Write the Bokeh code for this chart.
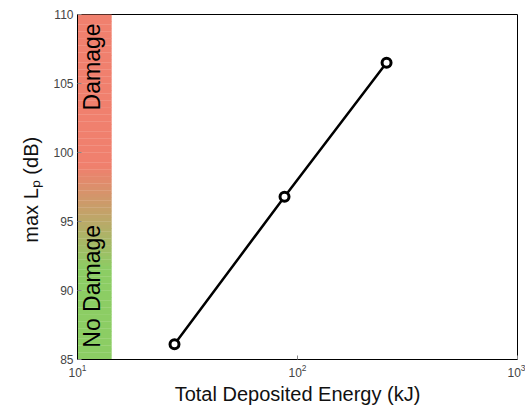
from bokeh.plotting import figure
from bokeh.models import FixedTicker, Label
from bokeh.embed import file_html
from bokeh.resources import INLINE
import numpy as np

energy_kj = [27.6, 87.3, 254.0]
max_lp_db = [86.1, 96.8, 106.5]
y_ticks = [85, 90, 95, 100, 105, 110]
x_ticks = [10, 100, 1000]
band_x = [10, 14.3]
zone_labels = ["Damage", "No Damage"]

p = figure(width=525, height=407, x_axis_type="log", x_range=(10, 1000), y_range=(85, 110),
           output_backend="svg", toolbar_location=None,
           min_border_left=77, min_border_right=8, min_border_top=14, min_border_bottom=46)

# gradient band
red = np.array([240, 128, 110])
green = np.array([140, 205, 100])
n = 100
edges = np.linspace(85, 110, n + 1)
lefts, rights, bottoms, tops, cols = [], [], [], [], []
for i in range(n):
    yc = 0.5 * (edges[i] + edges[i + 1])
    t = np.clip((yc - 91.5) / (99.0 - 91.5), 0, 1)
    c = green * (1 - t) + red * t
    lefts.append(band_x[0]); rights.append(band_x[1])
    bottoms.append(edges[i]); tops.append(edges[i + 1] + 0.02)
    cols.append("#%02x%02x%02x" % tuple(int(v) for v in c))
p.quad(left=lefts, right=rights, bottom=bottoms, top=tops, fill_color=cols, line_color=None)

p.add_layout(Label(x=11.6, y=106.2, text=zone_labels[0], angle=np.pi / 2, text_align="center",
                   text_baseline="middle", text_font="Liberation Sans", text_font_size="23px",
                   text_color="black"))
p.add_layout(Label(x=11.6, y=90.3, text=zone_labels[1], angle=np.pi / 2, text_align="center",
                   text_baseline="middle", text_font="Liberation Sans", text_font_size="23px",
                   text_color="black"))

p.line(energy_kj, max_lp_db, line_color="black", line_width=2.5)
p.scatter(energy_kj, max_lp_db, marker="circle", size=9, fill_color="white",
          line_color="black", line_width=3)

p.grid.visible = False
p.outline_line_color = "black"
p.outline_line_width = 1

p.yaxis.ticker = FixedTicker(ticks=y_ticks)
p.xaxis.ticker = FixedTicker(ticks=x_ticks)
for ax in (p.xaxis, p.yaxis):
    ax.major_tick_in = 4
    ax.major_tick_out = 0
    ax.minor_tick_in = 0
    ax.minor_tick_out = 0
    ax.axis_line_color = "black"
    ax.major_tick_line_color = "#888888"
    ax.major_label_text_font = "Liberation Sans"
    ax.major_label_text_font_size = "12px"
    ax.major_label_text_color = "#444444"
    ax.axis_label_text_font = "Liberation Sans"
    ax.axis_label_text_font_size = "20px"
    ax.axis_label_text_font_style = "normal"
    ax.axis_label_text_color = "#111111"

p.xaxis.axis_label = "Total Deposited Energy (kJ)"
p.yaxis.axis_label = "max Lₚ  (dB)"
p.xaxis.axis_label_standoff = 3
p.yaxis.axis_label_standoff = 8
p.yaxis.major_label_standoff = 4
p.xaxis.major_label_standoff = 4

open("out.html", "w").write(file_html(p, INLINE))
